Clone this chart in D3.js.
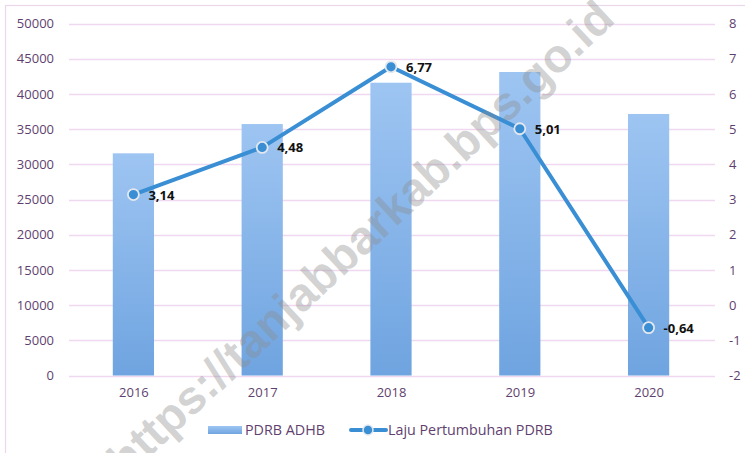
<!DOCTYPE html>
<html><head><meta charset="utf-8">
<script src="https://cdn.jsdelivr.net/npm/d3@7"></script>
<style>body{margin:0;background:#fff}svg{display:block}</style>
</head><body>
<script>
const years = ["2016","2017","2018","2019","2020"];
const pdrb = [31560, 35720, 41590, 43110, 37150];
const laju = [3.14, 4.48, 6.77, 5.01, -0.64];
const lajuLabels = ["3,14","4,48","6,77","5,01","-0,64"];
const leftTicks = [0,5000,10000,15000,20000,25000,30000,35000,40000,45000,50000];
const rightTicks = [-2,-1,0,1,2,3,4,5,6,7,8];

const W = 745, H = 453;
const m = {l:69, r:713, t:23.5, b:375.5};
const svg = d3.select("body").append("svg").attr("width",W).attr("height",H);
const font = "'Open Sans', sans-serif";
const txtCol = "#5f3f6f";

svg.append("rect").attr("x",5.5).attr("y",5.5).attr("width",W+5).attr("height",H+5)
  .attr("fill","none").attr("stroke","#ead7ea").attr("stroke-width",1.2);

const x = d3.scaleBand().domain(years).range([m.l,m.r]).paddingInner(0.68).paddingOuter(0.34);
const xc = d3.scalePoint().domain(years).range([m.l,m.r]).padding(0.5);
const yL = d3.scaleLinear().domain([0,50000]).range([m.b,m.t]);
const yR = d3.scaleLinear().domain([-2,8]).range([m.b,m.t]);

const defs = svg.append("defs");
const g = defs.append("linearGradient").attr("id","bg").attr("x1",0).attr("y1",0).attr("x2",0).attr("y2",1);
g.append("stop").attr("offset","0%").attr("stop-color","#9ec5f2");
g.append("stop").attr("offset","100%").attr("stop-color","#6fa4e0");
const g2 = defs.append("linearGradient").attr("id","lg").attr("x1",0).attr("y1",0).attr("x2",0).attr("y2",1);
g2.append("stop").attr("offset","0%").attr("stop-color","#9ec5f2");
g2.append("stop").attr("offset","100%").attr("stop-color","#6fa4e0");

// gridlines
svg.append("g").selectAll("line").data(leftTicks).join("line")
  .attr("x1",m.l).attr("x2",m.r+2).attr("y1",d=>Math.round(yL(d))+0.5).attr("y2",d=>Math.round(yL(d))+0.5)
  .attr("stroke","#f0d9f0").attr("stroke-width",1.3);

// left axis
const axL = d3.axisLeft(yL).tickValues(leftTicks).tickSize(0).tickPadding(0).tickFormat(d3.format("d"));
const gL = svg.append("g").attr("transform","translate(54,0)").call(axL);
gL.select(".domain").remove();
gL.selectAll("text").attr("font-family",font).attr("font-size","13px").attr("fill",txtCol);

const axR = d3.axisRight(yR).tickValues(rightTicks).tickSize(0).tickPadding(0).tickFormat(d=>String(d));
const gR = svg.append("g").attr("transform","translate(729,0)").call(axR);
gR.select(".domain").remove();
gR.selectAll("text").attr("font-family",font).attr("font-size","13px").attr("fill",txtCol);

const axB = d3.axisBottom(xc).tickSize(0).tickPadding(0);
const gB = svg.append("g").attr("transform","translate(0,388)").call(axB);
gB.select(".domain").remove();
gB.selectAll("text").attr("font-family",font).attr("font-size","13px").attr("fill",txtCol);

// bars
svg.append("g").selectAll("rect").data(years).join("rect")
  .attr("x",d=>x(d)).attr("width",x.bandwidth())
  .attr("y",(d,i)=>yL(pdrb[i])).attr("height",(d,i)=>yL(0)-yL(pdrb[i]))
  .attr("fill","url(#bg)");

// line
const line = d3.line().x((d,i)=>xc(years[i])).y(d=>yR(d));
svg.append("path").datum(laju).attr("d",line).attr("fill","none")
  .attr("stroke","#3a8fd4").attr("stroke-width",4).attr("stroke-linejoin","round");
svg.append("g").selectAll("circle").data(laju).join("circle")
  .attr("cx",(d,i)=>xc(years[i])).attr("cy",d=>yR(d)).attr("r",5.5)
  .attr("fill","#3a8fd4").attr("stroke","#e4e8ee").attr("stroke-width",1.8);
svg.append("g").selectAll("text").data(laju).join("text")
  .attr("x",(d,i)=>xc(years[i])+15).attr("y",d=>yR(d)+5)
  .attr("font-family",font).attr("font-size","13px").attr("font-weight","bold").attr("fill","#111")
  .text((d,i)=>lajuLabels[i]);

// legend
const leg = svg.append("g").attr("font-family",font).attr("font-size","14.3px").attr("fill",txtCol);
leg.append("rect").attr("x",208).attr("y",426).attr("width",34).attr("height",8).attr("fill","url(#lg)");
leg.append("text").attr("x",245).attr("y",435).text("PDRB ADHB");
leg.append("line").attr("x1",351).attr("x2",386).attr("y1",430).attr("y2",430).attr("stroke","#3a8fd4").attr("stroke-width",4).attr("stroke-linecap","round");
leg.append("circle").attr("cx",368).attr("cy",430).attr("r",5).attr("fill","#3a8fd4").attr("stroke","#e4e8ee").attr("stroke-width",1.5);
leg.append("text").attr("x",388).attr("y",435).text("Laju Pertumbuhan PDRB");

// watermark
svg.append("text").attr("transform","translate(363,241) rotate(-43)")
  .attr("text-anchor","middle").attr("dominant-baseline","middle")
  .attr("font-family","'Liberation Sans', Arial, sans-serif").attr("font-weight","bold").attr("font-size","47px")
  .attr("fill","#8c8c8c").attr("fill-opacity",0.38)
  .text("https://tanjabbarkab.bps.go.id");
</script>
</body></html>
